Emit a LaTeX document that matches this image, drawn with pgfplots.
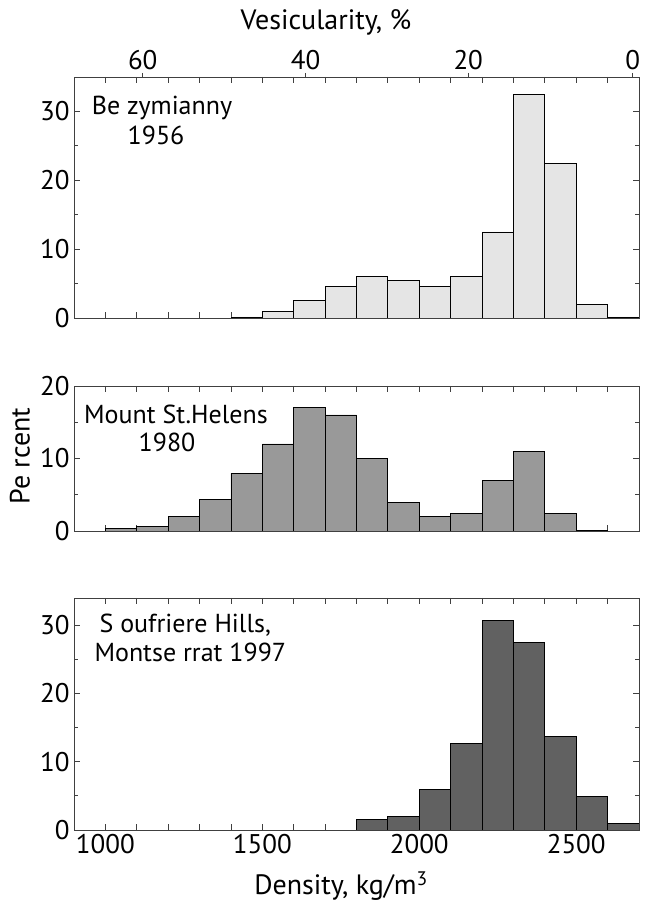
\documentclass[border=0pt]{standalone}
\usepackage{pgfplots}
\pgfplotsset{compat=1.18}
\usepackage{fontspec}
\setmainfont{PT Sans}

\definecolor{fillA}{gray}{0.90}
\definecolor{fillB}{gray}{0.60}
\definecolor{fillC}{gray}{0.38}
\newcommand\lab{\fontsize{27bp}{30bp}\selectfont}
\newcommand\ann{\fontsize{26bp}{29bp}\selectfont}
\newcommand\ttl{\fontsize{28bp}{31bp}\selectfont}

\pgfplotsset{
  panel/.style={
    scale only axis, width=565bp, anchor=south west,
    xmin=900, xmax=2700, ymin=0,
    axis line style={black!75, line width=0.8bp},
    every tick/.style={black!75, line width=0.8bp},
    tick align=inside, xtick pos=both, ytick pos=both,
    major tick length=6bp, minor tick length=4bp,
    xtick={1000,1100,1200,1300,1400,1500,1600,1700,1800,1900,2000,2100,2200,2300,2400,2500,2600},
    xticklabels={},
    ticklabel style={font=\lab},
    /pgf/number format/assume math mode=true,
    yticklabel style={xshift=-1bp},
  },
  hist/.style={ybar, bar width=100, draw=black, line width=0.8bp, fill=#1},
}

\begin{document}
\begin{tikzpicture}
\path[use as bounding box] (0bp,0bp) rectangle (646bp,906bp);

% Bezymianny 1956
\begin{axis}[panel, at={(74bp,588bp)}, height=241bp, ymax=35,
  ytick={0,10,20,30}, minor ytick={5,15,25}]
\addplot[hist=fillA] coordinates {
  (1450,0.15) (1550,1.0) (1650,2.5) (1750,4.6) (1850,6.0) (1950,5.5)
  (2050,4.6) (2150,6.0) (2250,12.5) (2350,32.5) (2450,22.5) (2550,2.0)
  (2650,0.15)};
\end{axis}
% vesicularity scale on top
\begin{axis}[scale only axis, width=565bp, height=241bp, anchor=south west,
  at={(74bp,588bp)}, xmin=900, xmax=2700, ymin=0, ymax=35,
  axis x line*=top, axis y line=none,
  axis line style={black!75, line width=0.8bp},
  every tick/.style={black!75, line width=0.8bp},
  tick align=outside, major tick length=4bp,
  xtick={1119,1638,2156,2680}, xticklabels={60,40,20,0},
  ticklabel style={font=\lab},
  /pgf/number format/assume math mode=true]
\end{axis}

% Mount St. Helens 1980
\begin{axis}[panel, at={(74bp,375bp)}, height=145bp, ymax=20,
  ytick={0,10,20}, minor ytick={5,15}]
\addplot[hist=fillB] coordinates {
  (1050,0.35) (1150,0.6) (1250,1.95) (1350,4.4) (1450,7.95) (1550,12.0)
  (1650,17.0) (1750,16.0) (1850,10.0) (1950,3.95) (2050,1.95) (2150,2.45)
  (2250,7.0) (2350,11.0) (2450,2.45) (2550,0.1)};
\end{axis}

% Soufriere Hills 1997
\begin{axis}[panel, at={(74bp,76bp)}, height=232bp, ymax=34,
  ytick={0,10,20,30}, minor ytick={5,15,25},
  xticklabels={1000,,,,,1500,,,,,2000,,,,,2500,},
  xticklabel style={yshift=-1bp}]
\addplot[hist=fillC] coordinates {
  (1850,1.6) (1950,2.0) (2050,5.9) (2150,12.7) (2250,30.7) (2350,27.5)
  (2450,13.7) (2550,4.9) (2650,1.0)};
\end{axis}

\node[font=\ttl] at (326bp,884bp) {Vesicularity, \%};
\node[font=\ttl] at (341bp,20bp) {Density, kg/m\textsuperscript{3}};
\node[font=\ttl, rotate=90] at (20bp,450bp) {Pe rcent};

\node[font=\ann] at (162bp,798bp) {Be zymianny};
\node[font=\ann] at (156bp,771bp) {1956};
\node[font=\ann] at (176bp,492bp) {Mount St.Helens};
\node[font=\ann] at (167bp,464bp) {1980};
\node[font=\ann, anchor=west] at (96bp,281bp) {S oufriere Hills,};
\node[font=\ann, anchor=west] at (91bp,254bp) {Montse rrat 1997};
\end{tikzpicture}
\end{document}
